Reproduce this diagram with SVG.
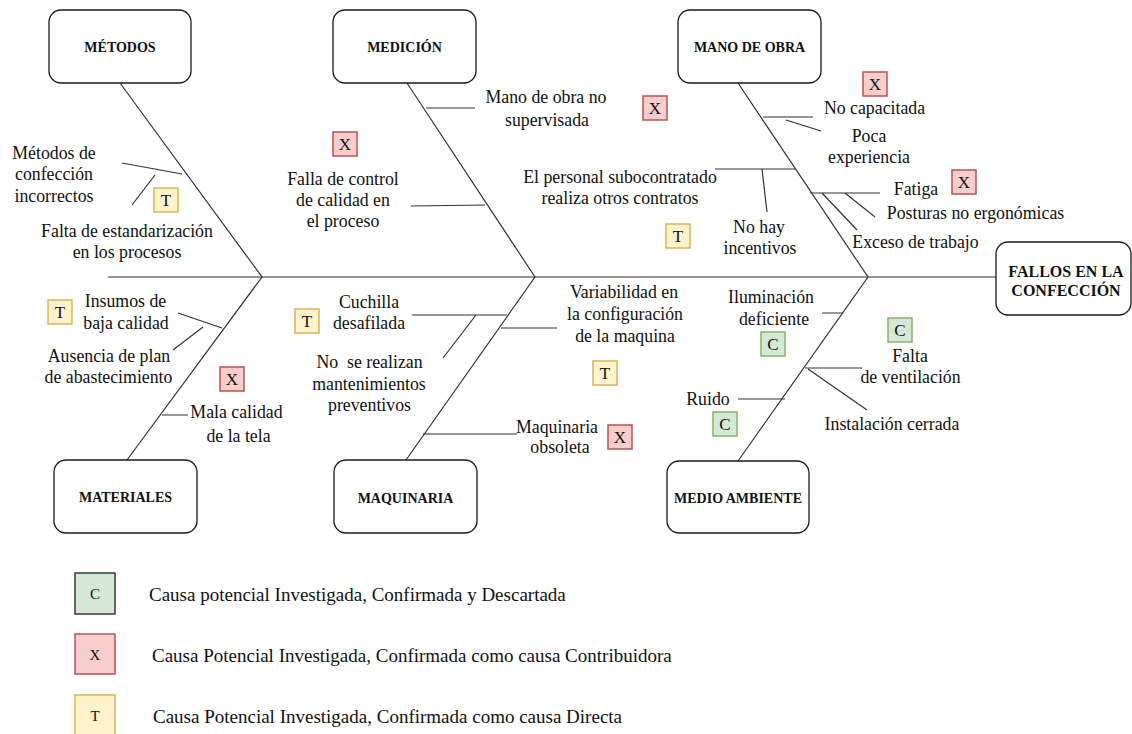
<svg xmlns="http://www.w3.org/2000/svg" width="1132" height="734" viewBox="0 0 1132 734">
<style>
.box{fill:#fff;stroke:#1a1a1a;stroke-width:1.3}
.lbl{font-family:"Liberation Serif",serif;font-weight:bold;font-size:14px;fill:#111;text-anchor:middle}
.t{font-family:"Liberation Serif",serif;font-size:17.8px;fill:#111;text-anchor:middle}
.ln{stroke:#333;stroke-width:1.2;fill:none}
.bx{stroke-width:1.5}
.bX{fill:#f8cecc;stroke:#b85450}
.bT{fill:#fff2cc;stroke:#d6b656}
.bC{fill:#d5e8d4;stroke:#82b366}
.bl{font-family:"Liberation Serif",serif;font-size:17px;fill:#111;text-anchor:middle}
.lg{font-family:"Liberation Serif",serif;font-size:19px;fill:#111}
.lgl{font-family:"Liberation Serif",serif;font-size:15px;fill:#111;text-anchor:middle}
</style>
<rect width="1132" height="734" fill="#fff"/>
<g id="connectors">
<path class="ln" d="M108 277H996"/>
<path class="ln" d="M120 83L262 277L127 460"/>
<path class="ln" d="M407 83L535 277L406 460"/>
<path class="ln" d="M738 83L868 277L738 461"/>
<path class="ln" d="M122 163L182 174M132 205L155 175"/>
<path class="ln" d="M426 108H475M411 206L485 205"/>
<path class="ln" d="M763 117H813M786 120L821 131M715 169H796M762 169L767 212M810 193H880M845 193L875 217M822 193L857 230"/>
<path class="ln" d="M178 313L222 328M173 350L203 327M162 415H188"/>
<path class="ln" d="M412 315H507M443 358L476 315M501 328H557M423 434H517"/>
<path class="ln" d="M822 313H843M805 368H862M808 369L867 410M738 399H785"/>
</g>
<g id="metodos"><rect class="box" x="49" y="10" width="142" height="73" rx="12"/><text class="lbl" x="120" y="52">MÉTODOS</text></g>
<g id="medicion"><rect class="box" x="333" y="10" width="143" height="73" rx="12"/><text class="lbl" x="404.5" y="52">MEDICIÓN</text></g>
<g id="manodeobra"><rect class="box" x="678" y="10" width="143" height="73" rx="12"/><text class="lbl" x="749.5" y="52">MANO DE OBRA</text></g>
<g id="fallos"><rect class="box" x="996" y="242" width="135" height="73" rx="12"/><text class="lbl" style="font-size:16px" x="1066" y="277">FALLOS EN LA</text><text class="lbl" style="font-size:16px" x="1066" y="296">CONFECCIÓN</text></g>
<g id="materiales"><rect class="box" x="54" y="460" width="143" height="73" rx="12"/><text class="lbl" x="125.5" y="502">MATERIALES</text></g>
<g id="maquinaria"><rect class="box" x="334" y="460" width="143" height="73" rx="12"/><text class="lbl" x="405.5" y="503">MAQUINARIA</text></g>
<g id="medioambiente"><rect class="box" x="667" y="461" width="142" height="72" rx="12"/><text class="lbl" x="738" y="503">MEDIO AMBIENTE</text></g>
<g id="causes">
<text class="t" x="54" y="159">Métodos de</text>
<text class="t" x="54" y="180">confección</text>
<text class="t" x="54" y="202">incorrectos</text>
<text class="t" x="127" y="237">Falta de estandarización</text>
<text class="t" x="127" y="258">en los procesos</text>
<text class="t" x="546" y="103">Mano de obra no</text>
<text class="t" x="547" y="126">supervisada</text>
<text class="t" x="343" y="185">Falla de control</text>
<text class="t" x="343" y="206">de calidad en</text>
<text class="t" x="343" y="227">el proceso</text>
<text class="t" x="620" y="183">El personal subocontratado</text>
<text class="t" x="620" y="204">realiza otros contratos</text>
<text class="t" x="759" y="233">No hay</text>
<text class="t" x="760" y="254">incentivos</text>
<text class="t" x="874.5" y="114">No capacitada</text>
<text class="t" x="869" y="142">Poca</text>
<text class="t" x="869" y="163">experiencia</text>
<text class="t" x="916" y="195">Fatiga</text>
<text class="t" x="975.5" y="219">Posturas no ergonómicas</text>
<text class="t" x="915.5" y="248">Exceso de trabajo</text>
<text class="t" x="125.5" y="307">Insumos de</text>
<text class="t" x="126" y="329">baja calidad</text>
<text class="t" x="109" y="362">Ausencia de plan</text>
<text class="t" x="108.5" y="383">de abastecimiento</text>
<text class="t" x="236.5" y="418">Mala calidad</text>
<text class="t" x="238.5" y="442">de la tela</text>
<text class="t" x="369" y="308">Cuchilla</text>
<text class="t" x="369" y="329">desafilada</text>
<text class="t" x="369.5" y="368" xml:space="preserve">No  se realizan</text>
<text class="t" x="369" y="390">mantenimientos</text>
<text class="t" x="369.5" y="411">preventivos</text>
<text class="t" x="624" y="298">Variabilidad en</text>
<text class="t" x="625" y="320">la configuración</text>
<text class="t" x="625" y="342">de la maquina</text>
<text class="t" x="557" y="433">Maquinaria</text>
<text class="t" x="560" y="453">obsoleta</text>
<text class="t" x="771" y="303">Iluminación</text>
<text class="t" x="774" y="325">deficiente</text>
<text class="t" x="910" y="362">Falta</text>
<text class="t" x="910.5" y="383">de ventilación</text>
<text class="t" x="892" y="430">Instalación cerrada</text>
<text class="t" x="708" y="405">Ruido</text>
</g>
<g id="badges">
<rect class="bx bT" x="154" y="188" width="24" height="24"/><text class="bl" x="166" y="206">T</text>
<rect class="bx bX" x="333" y="132" width="24" height="24"/><text class="bl" x="345" y="150">X</text>
<rect class="bx bX" x="643" y="96" width="24" height="24"/><text class="bl" x="655" y="114">X</text>
<rect class="bx bX" x="863" y="72" width="24" height="24"/><text class="bl" x="875" y="90">X</text>
<rect class="bx bT" x="666" y="224" width="24" height="24"/><text class="bl" x="678" y="242">T</text>
<rect class="bx bX" x="952" y="170" width="24" height="24"/><text class="bl" x="964" y="188">X</text>
<rect class="bx bT" x="48" y="300" width="24" height="24"/><text class="bl" x="60" y="318">T</text>
<rect class="bx bX" x="220" y="367" width="24" height="24"/><text class="bl" x="232" y="385">X</text>
<rect class="bx bT" x="295" y="309" width="24" height="24"/><text class="bl" x="307" y="327">T</text>
<rect class="bx bT" x="593" y="361" width="24" height="24"/><text class="bl" x="605" y="379">T</text>
<rect class="bx bX" x="608" y="425" width="24" height="24"/><text class="bl" x="620" y="443">X</text>
<rect class="bx bC" x="761" y="332" width="24" height="24"/><text class="bl" x="773" y="350">C</text>
<rect class="bx bC" x="888" y="318" width="24" height="24"/><text class="bl" x="900" y="336">C</text>
<rect class="bx bC" x="713" y="412" width="24" height="24"/><text class="bl" x="725" y="430">C</text>
</g>
<g id="legend">
<rect class="bx bC" style="stroke:#36393d" x="75" y="573" width="40" height="41"/><text class="lgl" x="95" y="599">C</text>
<text class="lg" x="149" y="601">Causa potencial Investigada, Confirmada y Descartada</text>
<rect class="bx bX" x="75" y="634" width="40" height="40"/><text class="lgl" x="95" y="660">X</text>
<text class="lg" x="152" y="662">Causa Potencial Investigada, Confirmada como causa Contribuidora</text>
<rect class="bx bT" x="75" y="695" width="40" height="40"/><text class="lgl" x="95" y="721">T</text>
<text class="lg" x="153" y="723">Causa Potencial Investigada, Confirmada como causa Directa</text>
</g>
</svg>
